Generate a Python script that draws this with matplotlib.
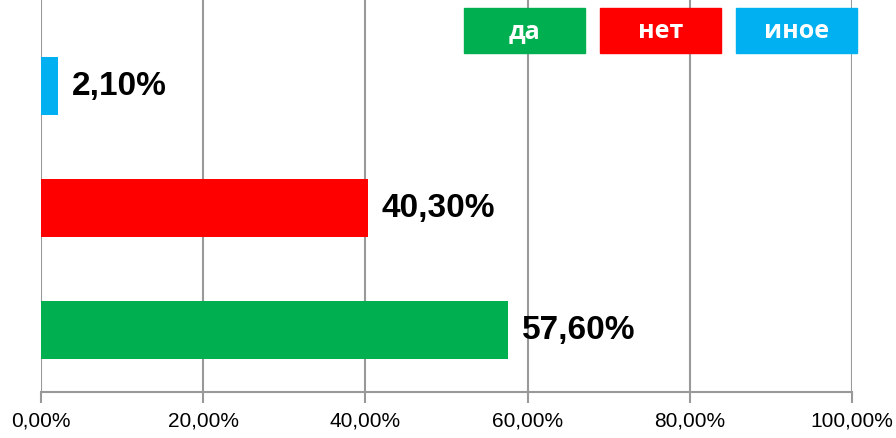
import matplotlib
matplotlib.use('Agg')
import matplotlib.pyplot as plt
from matplotlib.patches import Rectangle

categories = ['да', 'нет', 'иное']
values = [57.6, 40.3, 2.1]
value_labels = ['57,60%', '40,30%', '2,10%']
colors = ['#00B050', '#FF0000', '#00B0F0']
xticks = [0, 20, 40, 60, 80, 100]
xtick_labels = ['0,00%', '20,00%', '40,00%', '60,00%', '80,00%', '100,00%']

narrow = ['Liberation Sans', 'DejaVu Sans']

fig = plt.figure(figsize=(8.96, 4.38), dpi=100)
ax = fig.add_axes([41 / 896, 46 / 438, 811 / 896, 392 / 438])

ypos = list(range(len(values)))
ax.barh(ypos, values, height=0.48, color=colors, zorder=3)
for y, v, lab in zip(ypos, values, value_labels):
    ax.text(v + 1.7, y, lab, va='center', ha='left', fontsize=24,
            fontweight='bold', family=narrow, zorder=4)

ax.set_xlim(0, 100)
ax.set_ylim(-0.508, 2.705)
ax.set_xticks(xticks)
ax.set_xticklabels(xtick_labels, family=narrow, fontsize=15)
ax.set_yticks([])
ax.grid(axis='x', color='#999999', linewidth=1.5, zorder=0)
ax.tick_params(axis='x', length=8, width=1.5, color='#999999', pad=6)
for s in ['top', 'right', 'left']:
    ax.spines[s].set_visible(False)
ax.spines['bottom'].set_color('#999999')
ax.spines['bottom'].set_linewidth(1.5)

# legend boxes
box_x = [464, 600, 736]
for bx, c, cat in zip(box_x, colors, categories):
    fig.patches.append(Rectangle((bx / 896, 1 - 53 / 438), 121 / 896, 45 / 438,
                                 transform=fig.transFigure, color=c, zorder=5))
    fig.text((bx + 60.5) / 896, 1 - 32 / 438, cat, color='white', fontsize=18,
             fontweight='bold', family=['Open Sans', 'DejaVu Sans'],
             ha='center', va='center', zorder=6)

fig.savefig('out.png', dpi=100)
